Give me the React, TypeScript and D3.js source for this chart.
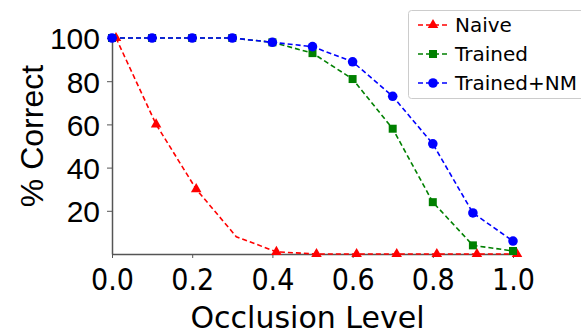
import { useRef, useEffect } from "react";
import * as d3 from "d3";

// occlusion levels and % correct
const levels = [0.0, 0.1, 0.2, 0.3, 0.4, 0.5, 0.6, 0.7, 0.8, 0.9, 1.0];
const naiveLevels = [0.01, 0.11, 0.21, 0.31, 0.41, 0.51, 0.61, 0.71, 0.81, 0.91, 1.01];
const naive = [100, 60, 30, 8, 1, 0, 0, 0, 0, 0, 0];
const naiveMarked = [true, true, true, false, true, true, true, true, true, true, true];
const trained = [100, 100, 100, 100, 98, 93, 81, 58, 24, 4, 1.4];
const trainedNM = [100, 100, 100, 100, 98, 96, 89, 73, 51, 19, 6];

const xTicks = [0, 0.2, 0.4, 0.6, 0.8, 1.0];
const yTicks = [20, 40, 60, 80, 100];
const seriesNames = ["Naive", "Trained", "Trained+NM"];
const seriesColors = ["#ff0000", "#008000", "#0000ff"];

const width = 581;
const height = 333;
const margin = { top: 38, right: 68, bottom: 79, left: 112 };

const App = () => {
  const svgRef = useRef<SVGSVGElement>(null);

  useEffect(() => {
    const svg = d3.select(svgRef.current);
    svg.selectAll("*").remove();

    const x = d3.scaleLinear().domain([0, 1]).range([margin.left, width - margin.right]);
    const y = d3.scaleLinear().domain([0, 100]).range([height - margin.bottom, margin.top]);

    // axes
    const axisColor = "#555";
    const xAxis = svg
      .append("g")
      .attr("transform", `translate(0,${y(0)})`)
      .call(d3.axisBottom(x).tickValues(xTicks).tickFormat(d3.format(".1f")).tickSize(4).tickSizeOuter(0));
    xAxis.select(".domain").attr("stroke", axisColor).attr("stroke-width", 1.5);
    xAxis.selectAll(".tick line").attr("stroke", axisColor);
    xAxis
      .selectAll(".tick text")
      .attr("fill", "#000")
      .attr("font-family", "DejaVu Sans Condensed, DejaVu Sans")
      .attr("font-stretch", "condensed")
      .attr("font-size", 30)
      .attr("dy", 0)
      .attr("y", 36);

    const yAxis = svg
      .append("g")
      .attr("transform", `translate(${x(0)},0)`)
      .call(d3.axisLeft(y).tickValues(yTicks).tickFormat(d3.format("d")).tickSize(5).tickSizeOuter(0));
    yAxis.select(".domain").attr("stroke", axisColor).attr("stroke-width", 1.5);
    yAxis.selectAll(".tick line").attr("stroke", axisColor);
    yAxis
      .selectAll(".tick text")
      .attr("fill", "#000")
      .attr("font-family", "Liberation Sans, Arial")
      .attr("font-size", 30)
      .attr("x", -12)
      .attr("dy", "0.36em");

    // axis titles
    svg
      .append("text")
      .attr("x", (x(0) + x(1)) / 2 - 5)
      .attr("y", 328)
      .attr("text-anchor", "middle")
      .attr("font-family", "DejaVu Sans")
      .attr("font-size", 30)
      .text("Occlusion Level");

    svg
      .append("text")
      .attr("transform", `translate(43,${136}) rotate(-90)`)
      .attr("text-anchor", "middle")
      .attr("font-family", "Liberation Sans, Arial")
      .attr("font-size", 32)
      .text("% Correct");

    const series = [
      { xs: naiveLevels, ys: naive, marked: naiveMarked, symbol: d3.symbolTriangle, size: 48 },
      { xs: levels, ys: trained, marked: levels.map(() => true), symbol: d3.symbolSquare, size: 64 },
      { xs: levels, ys: trainedNM, marked: levels.map(() => true), symbol: d3.symbolCircle, size: 72 },
    ];

    series.forEach((s, i) => {
      const pts = s.xs.map((v, j) => ({ x: v, y: s.ys[j], m: s.marked[j] }));
      const line = d3
        .line<{ x: number; y: number }>()
        .x((d) => x(d.x))
        .y((d) => y(d.y));
      svg
        .append("path")
        .datum(pts)
        .attr("d", line)
        .attr("fill", "none")
        .attr("stroke", seriesColors[i])
        .attr("stroke-width", 1.6)
        .attr("stroke-dasharray", "5,3");
      svg
        .append("g")
        .selectAll("path")
        .data(pts.filter((d) => d.m))
        .enter()
        .append("path")
        .attr("transform", (d) => `translate(${x(d.x)},${y(d.y)})`)
        .attr("d", d3.symbol().type(s.symbol).size(s.size)())
        .attr("fill", seriesColors[i]);
    });

    // legend
    const legend = svg.append("g").attr("transform", "translate(408,10)");
    legend
      .append("rect")
      .attr("x", 0.5)
      .attr("y", 0.5)
      .attr("width", 180)
      .attr("height", 88)
      .attr("rx", 3)
      .attr("fill", "#fff")
      .attr("stroke", "#ccc");
    seriesNames.forEach((name, i) => {
      const cy = 15 + i * 29;
      const row = legend.append("g").attr("transform", `translate(0,${cy})`);
      row
        .append("line")
        .attr("x1", 10)
        .attr("x2", 40)
        .attr("stroke", seriesColors[i])
        .attr("stroke-width", 1.6)
        .attr("stroke-dasharray", "5,3");
      row
        .append("path")
        .attr("transform", "translate(25,0)")
        .attr("d", d3.symbol().type(series[i].symbol).size(series[i].size)())
        .attr("fill", seriesColors[i]);
      row
        .append("text")
        .attr("x", 47)
        .attr("dy", "0.36em")
        .attr("font-family", "DejaVu Sans")
        .attr("font-size", 20)
        .text(name);
    });
  }, []);

  return (
    <svg
      ref={svgRef}
      width={width}
      height={height}
      style={{ position: "absolute", left: 0, top: 0, background: "#fff" }}
    ></svg>
  );
};

export default App;
